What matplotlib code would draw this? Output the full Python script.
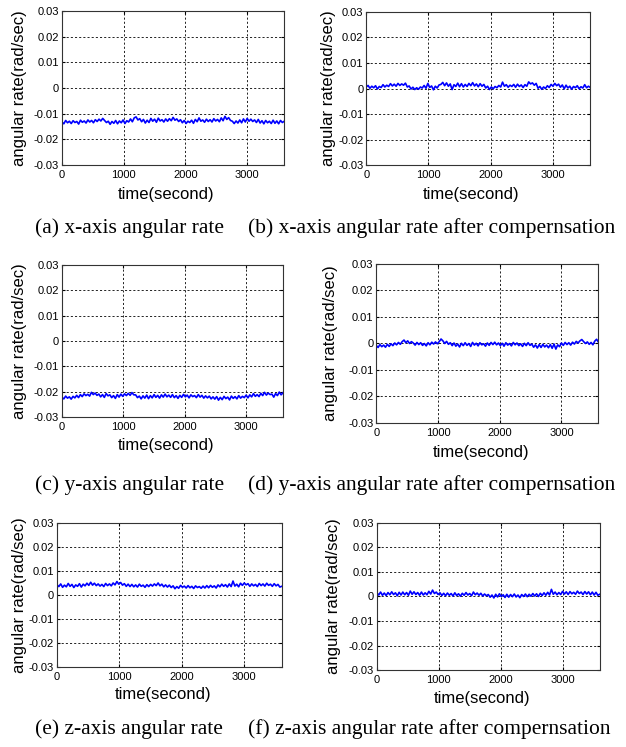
import matplotlib
matplotlib.use("Agg")
import matplotlib.pyplot as plt
import numpy as np

# time axis: one sample every 30 s over one hour
time_s = np.arange(0, 3601, 30)

# angular rates, in milli-rad/sec
x_raw = [-13.2, -13.9, -12.6, -13.5, -12.9, -13.8, -12.7, -13.4, -13.0, -14.0, -12.5, -13.3, -12.8, -13.6, -12.4, -13.2, -12.6, -13.5, -12.3, -13.0,
         -12.1, -12.8, -11.8, -12.6, -13.4, -12.9, -14.1, -13.0, -13.7, -12.6, -13.9, -12.8, -13.5, -12.4, -13.8, -12.7, -13.2, -12.0, -13.1, -11.6,
         -11.2, -12.4, -11.9, -13.1, -12.2, -13.6, -12.5, -13.4, -11.8, -12.9, -12.1, -13.3, -11.7, -12.8, -12.3, -13.2, -12.0, -12.9, -11.9, -12.7,
         -11.4, -12.5, -12.0, -13.0, -12.3, -13.5, -12.6, -13.8, -12.9, -13.4, -12.5, -13.7, -12.2, -13.1, -11.6, -12.9, -12.4, -13.3, -12.1, -13.0,
         -12.3, -13.2, -11.9, -12.8, -12.2, -13.1, -11.6, -12.7, -11.0, -12.2, -11.5, -12.6, -12.9, -13.8, -12.8, -13.6, -12.4, -13.5, -12.0, -13.2,
         -11.8, -12.9, -12.1, -13.0, -12.4, -13.4, -12.2, -13.6, -12.7, -13.9, -12.6, -13.5, -12.9, -13.8, -12.5, -13.7, -12.8, -13.9, -12.6, -13.4, -12.9]
x_comp = [0.6, 1.2, 0.1, 0.9, 0.3, 1.1, -0.2, 0.8, 0.4, 1.5, 0.6, 1.3, 0.8, 1.9, 1.0, 1.7, 0.9, 2.0, 1.2, 1.8,
          1.3, 2.1, 0.6, 1.0, -0.2, 0.5, -0.4, 0.3, -0.3, 0.6, 0.2, 1.2, 0.1, 2.0, 0.4, 1.0, -0.5, 0.9, 0.2, 1.4,
          1.6, 2.4, 1.1, 2.2, 0.9, 1.8, -0.4, 1.5, 0.8, 2.1, 0.7, 1.9, 0.6, 1.6, 0.8, 2.0, 1.1, 2.3, 1.0, 1.8,
          0.7, 1.9, 0.9, 1.6, 0.2, 0.9, -0.4, 0.6, -0.1, 0.8, 0.3, 1.2, 0.6, 2.5, 0.9, 1.5, 0.5, 1.3, 0.8, 1.6,
          0.5, 1.7, 0.8, 1.4, 0.4, 1.5, 0.9, 2.6, 1.8, 2.2, 1.3, 2.0, 0.1, 0.8, -0.3, 0.6, 0.0, 1.1, 0.4, 1.6,
          0.9, 2.0, 1.1, 1.7, 0.5, 1.4, -0.1, 1.3, 0.2, 0.9, -0.3, 0.8, 0.3, 1.1, -0.1, 0.7, 0.2, 1.5, 0.3, 0.9, 0.4]
y_raw = [-22.3, -22.9, -21.8, -22.6, -22.1, -23.0, -21.9, -22.5, -21.5, -22.4, -21.2, -22.0, -20.9, -21.6, -21.1, -21.8, -20.3, -21.2, -20.6, -21.5,
         -21.0, -22.1, -21.2, -22.3, -20.8, -21.7, -21.3, -22.4, -21.6, -22.7, -21.2, -22.2, -21.0, -21.9, -20.9, -21.6, -20.7, -21.5, -20.4, -21.3,
         -21.3, -22.4, -21.8, -22.9, -21.7, -22.6, -21.4, -22.8, -21.6, -22.5, -21.2, -22.3, -21.5, -22.6, -21.3, -22.2, -21.0, -22.1, -21.4, -22.3,
         -21.2, -22.4, -21.6, -22.7, -21.5, -22.3, -21.1, -22.1, -21.4, -22.5, -21.3, -22.0, -21.6, -22.4, -21.2, -22.2, -21.5, -22.6, -21.7, -22.5,
         -21.8, -22.9, -22.1, -23.0, -22.0, -23.4, -22.3, -23.2, -21.9, -22.8, -22.2, -23.3, -21.8, -22.7, -22.0, -22.9, -21.6, -22.6, -21.9, -22.4,
         -21.4, -22.5, -21.3, -22.1, -20.8, -21.9, -21.2, -22.0, -20.7, -21.6, -20.3, -21.4, -20.6, -21.2, -21.0, -22.2, -20.8, -21.6, -20.2, -21.3, -20.5]
y_comp = [-0.8, -1.6, -0.5, -1.3, -0.7, -1.5, -0.4, -1.2, -0.2, -0.9, 0.1, -0.6, 0.3, -0.4, 0.6, 1.2, 0.2, 0.9, -0.1, 0.6,
          0.1, -0.7, 0.3, -0.5, 0.2, -0.8, -0.1, -1.0, 0.2, -0.6, 0.4, -0.3, 0.5, -0.2, 0.6, 1.6, 0.9, -0.1, 0.7, -0.4,
          0.2, -0.9, 0.1, -1.1, -0.3, -1.4, 0.0, -0.9, 0.2, -0.8, -0.1, -1.2, 0.3, -0.7, 0.0, -1.0, 0.2, -0.6, -0.2, -1.1,
          0.1, -0.8, 0.3, -0.5, 0.4, -0.6, 0.1, -0.9, 0.0, -1.1, 0.2, -0.7, -0.1, -1.0, 0.3, -0.6, 0.1, -0.9, -0.2, -1.2,
          0.0, -0.9, 0.2, -0.8, -0.3, -1.5, -0.6, -1.8, -0.5, -1.6, -0.4, -1.4, -0.7, -1.7, -0.5, -1.9, -0.3, -2.2, -0.6, -1.3,
          0.1, -0.8, 0.3, -0.5, 0.2, -0.7, 0.4, -0.3, 0.7, 0.1, 0.9, 1.4, 0.6, -0.1, 0.5, -0.4, 0.3, -0.6, 0.8, 1.5, 0.4]
z_raw = [4.3, 3.5, 4.6, 3.2, 4.1, 3.4, 4.8, 3.6, 4.4, 3.1, 4.2, 3.6, 4.7, 3.3, 4.5, 3.8, 4.9, 4.0, 5.3, 4.1,
         4.9, 3.9, 4.6, 3.7, 4.4, 3.5, 4.8, 3.9, 4.6, 3.8, 5.0, 4.2, 5.6, 4.5, 5.2, 4.1, 4.7, 3.6, 4.5, 3.5,
         4.4, 3.4, 4.2, 3.3, 4.5, 3.6, 4.1, 3.2, 4.3, 3.5, 4.4, 3.7, 4.6, 3.9, 5.0, 3.8, 4.5, 3.4, 4.2, 3.3,
         4.1, 3.1, 3.8, 2.6, 3.5, 2.8, 4.0, 3.2, 3.7, 2.9, 3.9, 3.0, 3.6, 2.7, 3.8, 3.1, 3.5, 2.8, 3.7, 2.9,
         3.9, 3.0, 4.0, 3.2, 3.8, 2.9, 4.2, 3.4, 4.5, 3.6, 4.3, 3.3, 4.6, 3.5, 5.8, 3.7, 4.5, 3.4, 4.9, 4.0,
         5.0, 4.2, 4.7, 3.6, 4.6, 3.8, 4.4, 3.5, 4.8, 3.9, 4.6, 3.7, 4.9, 4.0, 4.5, 3.6, 4.7, 3.8, 4.4, 3.3, 3.6]
z_comp = [1.5, 0.6, 1.8, 0.5, 1.4, 0.4, 1.6, 0.7, 1.9, 0.8, 1.5, 0.3, 1.7, 0.6, 1.8, 0.7, 1.6, 0.5, 2.2, 0.9,
          1.9, 0.8, 1.6, 0.5, 1.8, 0.6, 1.5, 0.7, 2.1, 1.0, 2.6, 1.2, 1.8, 0.8, 1.5, 0.4, 1.3, 0.3, 1.4, 0.5,
          1.2, 0.2, 1.5, 0.4, 1.1, 0.1, 1.3, 0.5, 1.6, 0.6, 1.2, 0.3, 1.8, 0.7, 1.4, 0.5, 1.3, 0.2, 1.0, 0.3,
          0.8, -0.3, 0.6, -0.6, 0.9, -0.2, 1.1, 0.0, 0.7, -0.4, 0.9, -0.3, 0.8, -0.1, 1.0, -0.2, 0.6, -0.5, 0.8, 0.0,
          1.0, -0.1, 0.9, 0.1, 1.2, 0.2, 1.1, 0.0, 1.3, 0.4, 1.5, 0.5, 1.7, 0.6, 2.9, 0.9, 1.8, 0.7, 1.6, 0.8,
          2.1, 1.0, 1.9, 0.8, 2.0, 1.1, 1.7, 0.9, 2.2, 1.2, 1.8, 0.8, 2.0, 1.0, 1.9, 0.7, 1.8, 0.6, 1.7, 0.5, 0.9]

y_ticks = [-0.03, -0.02, -0.01, 0, 0.01, 0.02, 0.03]
y_tick_labels = ["-0.03", "-0.02", "-0.01", "0", "0.01", "0.02", "0.03"]
x_ticks = [0, 1000, 2000, 3000]

captions = [
    "(a) x-axis angular rate", "(b) x-axis angular rate after compernsation",
    "(c) y-axis angular rate", "(d) y-axis angular rate after compernsation",
    "(e) z-axis angular rate", "(f) z-axis angular rate after compernsation",
]

series = [x_raw, x_comp, y_raw, y_comp, z_raw, z_comp]

# axes boxes [left, bottom, width, height] in figure fraction
boxes = [
    [0.099, 0.779, 0.355, 0.206], [0.585, 0.779, 0.358, 0.205],
    [0.099, 0.442, 0.353, 0.203], [0.601, 0.434, 0.355, 0.213],
    [0.091, 0.107, 0.359, 0.193], [0.602, 0.103, 0.356, 0.197],
]
ylabel_x = [-0.158, -0.134, -0.158, -0.171, -0.132, -0.161]

plt.rcParams["font.family"] = ["Liberation Sans", "DejaVu Sans"]

fig = plt.figure(figsize=(6.26, 7.47), dpi=100)

for vals, box, lx in zip(series, boxes, ylabel_x):
    ax = fig.add_axes(box)
    ax.plot(time_s, np.array(vals) / 1000.0, color="#0000ff", lw=1.2)
    ax.set_xlim(0, 3600)
    ax.set_ylim(-0.03, 0.03)
    ax.set_xticks(x_ticks)
    ax.set_yticks(y_ticks)
    ax.set_yticklabels(y_tick_labels)
    ax.tick_params(direction="in", length=2, labelsize=8, top=True, right=True)
    ax.tick_params(axis="x", pad=3.5)
    ax.tick_params(axis="y", pad=2)
    ax.grid(True, color="k", linestyle=(0, (2.5, 2.5)), lw=0.6)
    for sp in ax.spines.values():
        sp.set_color("#333333")
        sp.set_linewidth(0.8)
    ax.set_ylabel("angular rate(rad/sec)", fontsize=12)
    ax.set_xlabel("time(second)", fontsize=12)
    ax.yaxis.set_label_coords(lx, 0.5)
    ax.xaxis.set_label_coords(0.47, -0.14)

# sub-figure captions
cap_y = [1 - 228 / 747, 1 - 485 / 747, 1 - 729 / 747]
for i, cap in enumerate(captions):
    row, col = divmod(i, 2)
    fig.text(35 / 626 if col == 0 else 248 / 626, cap_y[row], cap,
             family=["Liberation Serif", "DejaVu Serif"], fontsize=15.5,
             ha="left", va="center")

fig.savefig("out.png", dpi=100)
